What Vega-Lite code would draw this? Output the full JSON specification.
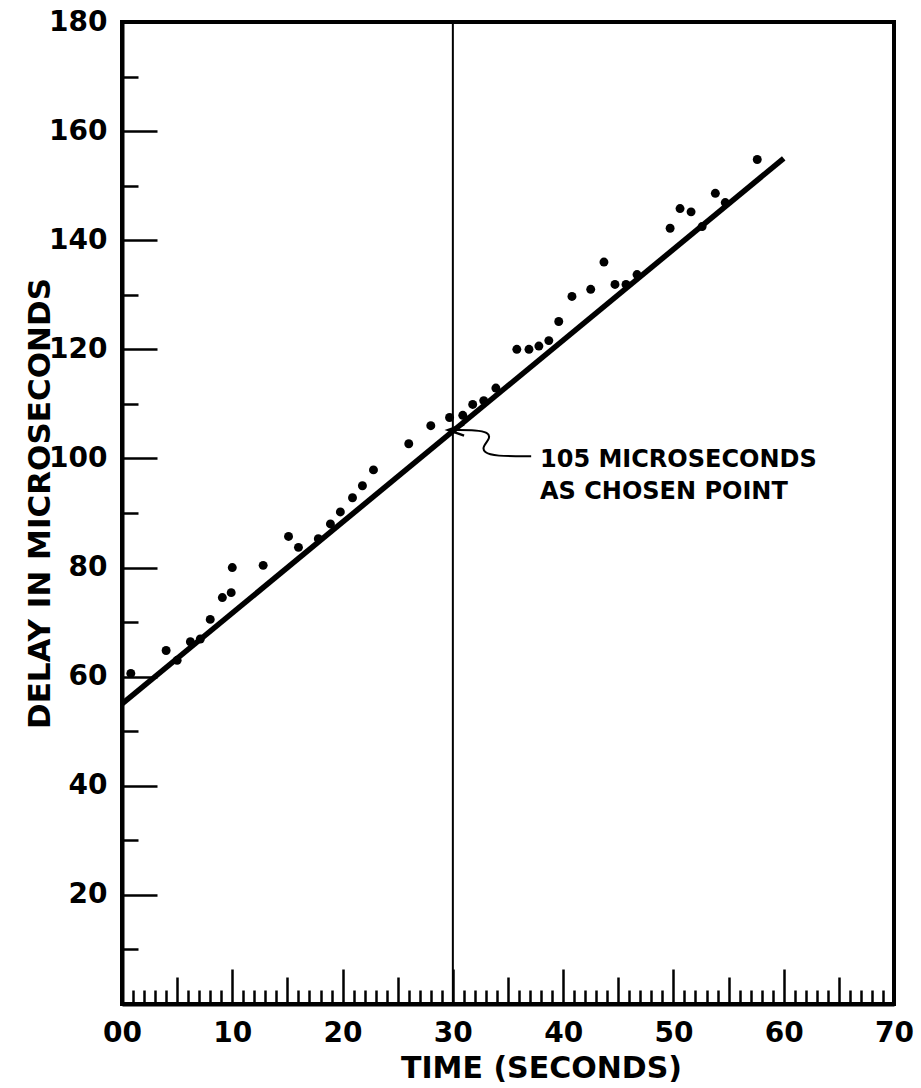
{
  "$schema": "https://vega.github.io/schema/vega-lite/v6.json",
  "width": 772,
  "height": 982,
  "autosize": {"type": "none"},
  "padding": {"left": 122, "top": 22, "right": 27, "bottom": 84},
  "background": "white",
  "config": {"view": {"stroke": "black", "strokeWidth": 4}, "font": "DejaVu Sans"},
  "datasets": {
    "obs": [
      {"t": 0.8, "delay": 60.6}, {"t": 4.0, "delay": 64.8}, {"t": 5.0, "delay": 63.0},
      {"t": 6.2, "delay": 66.4}, {"t": 7.1, "delay": 66.9}, {"t": 8.0, "delay": 70.5},
      {"t": 9.1, "delay": 74.5}, {"t": 9.9, "delay": 75.4}, {"t": 10.0, "delay": 80.0},
      {"t": 12.8, "delay": 80.4}, {"t": 15.1, "delay": 85.7}, {"t": 16.0, "delay": 83.7},
      {"t": 17.8, "delay": 85.3}, {"t": 18.9, "delay": 88.0}, {"t": 19.8, "delay": 90.2},
      {"t": 20.9, "delay": 92.8}, {"t": 21.8, "delay": 95.0}, {"t": 22.8, "delay": 97.9},
      {"t": 26.0, "delay": 102.7}, {"t": 28.0, "delay": 106.0}, {"t": 29.7, "delay": 107.5},
      {"t": 30.9, "delay": 107.9}, {"t": 31.8, "delay": 109.9}, {"t": 32.8, "delay": 110.6},
      {"t": 33.9, "delay": 112.9}, {"t": 35.8, "delay": 120.0}, {"t": 36.9, "delay": 120.0},
      {"t": 37.8, "delay": 120.6}, {"t": 38.7, "delay": 121.6}, {"t": 39.6, "delay": 125.1},
      {"t": 40.8, "delay": 129.7}, {"t": 42.5, "delay": 131.0}, {"t": 43.7, "delay": 136.0},
      {"t": 44.7, "delay": 131.9}, {"t": 45.7, "delay": 131.9}, {"t": 46.7, "delay": 133.7},
      {"t": 49.7, "delay": 142.2}, {"t": 50.6, "delay": 145.8}, {"t": 51.6, "delay": 145.2},
      {"t": 52.6, "delay": 142.5}, {"t": 53.8, "delay": 148.6}, {"t": 54.7, "delay": 146.9},
      {"t": 57.6, "delay": 154.8}
    ],
    "fit": [{"t": 0, "delay": 55}, {"t": 60, "delay": 155}],
    "arrow": [
      {"i": 1, "t": 37.1, "delay": 100.4}, {"i": 2, "t": 33.8, "delay": 100.4},
      {"i": 3, "t": 32.8, "delay": 101.1}, {"i": 4, "t": 32.7, "delay": 102.2},
      {"i": 5, "t": 33.4, "delay": 103.7}, {"i": 6, "t": 33.2, "delay": 104.8},
      {"i": 7, "t": 32.1, "delay": 105.2}, {"i": 8, "t": 30.3, "delay": 105.2}
    ],
    "tip": [{"t": 30.3, "delay": 105.2}],
    "vline": [{"t": 30}],
    "note": [{"t": 37.9, "delay": 99.7, "label": "105 MICROSECONDS\nAS CHOSEN POINT"}]
  },
  "layer": [
    {
      "data": {"name": "fit"},
      "mark": {"type": "line", "color": "black", "strokeWidth": 5.5},
      "encoding": {
        "x": {
          "field": "t", "type": "quantitative",
          "scale": {"domain": [0, 70], "nice": false, "zero": false},
          "axis": {
            "title": "TIME (SECONDS)",
            "values": [0,1,2,3,4,5,6,7,8,9,10,11,12,13,14,15,16,17,18,19,20,21,22,23,24,25,26,27,28,29,30,31,32,33,34,35,36,37,38,39,40,41,42,43,44,45,46,47,48,49,50,51,52,53,54,55,56,57,58,59,60,61,62,63,64,65,66,67,68,69,70],
            "tickCount": 200,
            "format": "d",
            "grid": false,
            "domainColor": "black", "domainWidth": 4,
            "tickColor": "black", "tickWidth": 2.5,
            "tickSize": {"condition": [{"test": "datum.value % 10 === 0", "value": -35}, {"test": "datum.value % 5 === 0", "value": -27}], "value": -14},
            "labelExpr": "datum.value % 10 === 0 ? (datum.value === 0 ? '00' : datum.label) : ''",
            "labelOverlap": false, "labelFlush": false,
            "labelFontSize": 28, "labelFontWeight": "bold", "labelColor": "black", "labelPadding": 50,
            "titleFontSize": 30, "titleFontWeight": "bold", "titleColor": "black",
            "titleX": 419, "titleY": 64, "titleBaseline": "middle", "titleAnchor": "middle"
          }
        },
        "y": {
          "field": "delay", "type": "quantitative",
          "scale": {"domain": [0, 180], "nice": false, "zero": false},
          "axis": {
            "title": "DELAY IN MICROSECONDS",
            "values": [0,10,20,30,40,50,60,70,80,90,100,110,120,130,140,150,160,170,180],
            "tickCount": 100,
            "format": "d",
            "grid": false,
            "domainColor": "black", "domainWidth": 4,
            "tickColor": "black", "tickWidth": 2.5,
            "tickSize": {"condition": {"test": "datum.value % 20 === 0", "value": -35}, "value": -16},
            "labelExpr": "datum.value % 20 === 0 && datum.value > 0 ? datum.label : ''",
            "labelOverlap": false, "labelFlush": false,
            "labelFontSize": 28, "labelFontWeight": "bold", "labelColor": "black", "labelPadding": 50,
            "titleFontSize": 31, "titleFontWeight": "bold", "titleColor": "black",
            "titleX": -82, "titleY": 481, "titleBaseline": "middle", "titleAnchor": "middle", "titleAngle": -90
          }
        }
      }
    },
    {
      "data": {"name": "vline"},
      "mark": {"type": "rule", "color": "black", "strokeWidth": 2},
      "encoding": {"x": {"field": "t", "type": "quantitative"}}
    },
    {
      "data": {"name": "obs"},
      "mark": {"type": "point", "filled": true, "color": "black", "size": 80, "opacity": 1},
      "encoding": {
        "x": {"field": "t", "type": "quantitative"},
        "y": {"field": "delay", "type": "quantitative"}
      }
    },
    {
      "data": {"name": "arrow"},
      "mark": {"type": "line", "color": "black", "strokeWidth": 2, "interpolate": "basis"},
      "encoding": {
        "x": {"field": "t", "type": "quantitative"},
        "y": {"field": "delay", "type": "quantitative"},
        "order": {"field": "i"}
      }
    },
    {
      "data": {"name": "tip"},
      "mark": {"type": "point", "shape": "M 1 -0.7 L -1 0 L 1 0.7", "filled": false, "color": "black", "strokeWidth": 2.5, "size": 250, "opacity": 1},
      "encoding": {
        "x": {"field": "t", "type": "quantitative"},
        "y": {"field": "delay", "type": "quantitative"}
      }
    },
    {
      "data": {"name": "note"},
      "mark": {"type": "text", "align": "left", "baseline": "middle", "fontSize": 24, "fontWeight": "bold", "lineHeight": 32, "lineBreak": "\n", "color": "black"},
      "encoding": {
        "x": {"field": "t", "type": "quantitative"},
        "y": {"field": "delay", "type": "quantitative"},
        "text": {"field": "label"}
      }
    }
  ]
}
